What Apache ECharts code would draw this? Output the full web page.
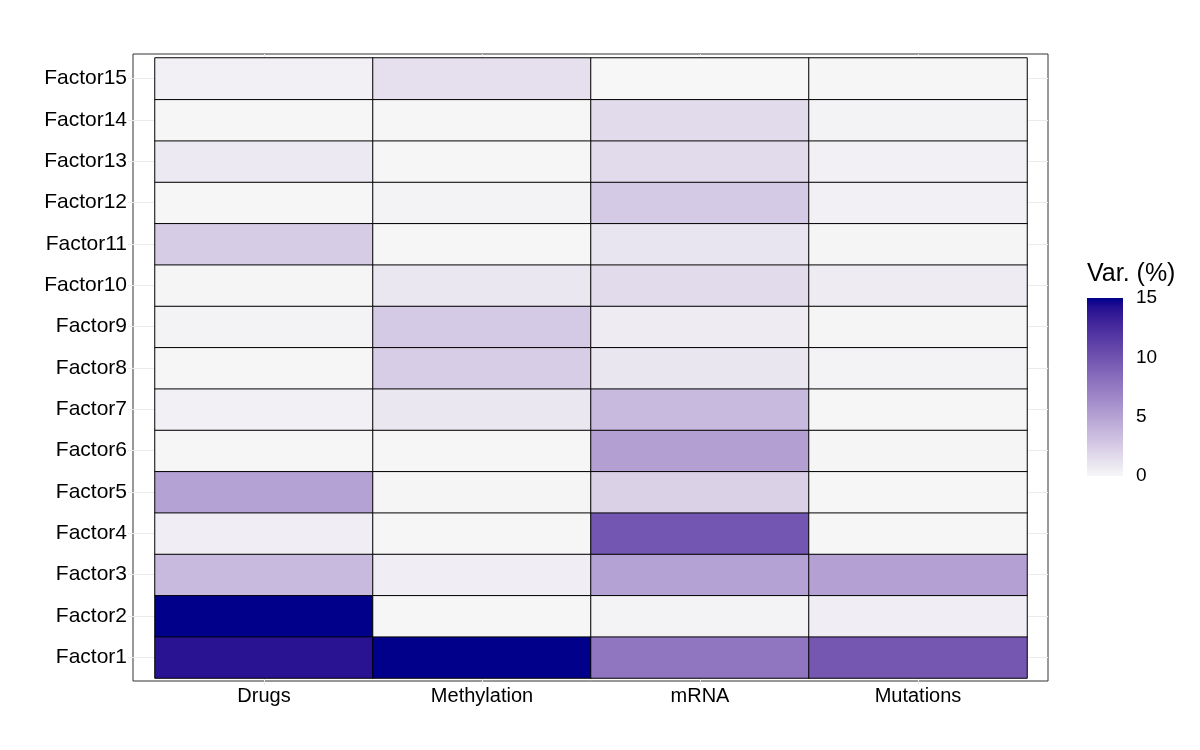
<!DOCTYPE html>
<html>
<head>
<meta charset="utf-8">
<style>
  html, body { margin: 0; padding: 0; background: #fff; }
  #chart { width: 1200px; height: 750px; }
</style>
<script src="https://cdn.jsdelivr.net/npm/echarts@6/dist/echarts.min.js"></script>
</head>
<body>
<div id="chart"></div>
<script>
// views on x, factors on y (Factor1 at the bottom)
const views = ['Drugs', 'Methylation', 'mRNA', 'Mutations'];
const factors = ['Factor1', 'Factor2', 'Factor3', 'Factor4', 'Factor5', 'Factor6', 'Factor7', 'Factor8',
  'Factor9', 'Factor10', 'Factor11', 'Factor12', 'Factor13', 'Factor14', 'Factor15'];

// variance explained (%) per factor, Factor1..Factor15
const drugs       = [14.0, 15.1, 3.6, 0.5, 5.0, 0.05, 0.4, 0.05, 0.3, 0.1, 2.5, 0.05, 0.8, 0.05, 0.4];
const methylation = [15.0, 0.05, 0.5, 0.05, 0.1, 0.05, 0.9, 2.4, 2.6, 0.9, 0.05, 0.3, 0.05, 0.05, 1.3];
const mrna        = [7.7, 0.3, 5.0, 9.8, 2.2, 5.2, 3.6, 1.0, 0.7, 1.6, 1.1, 2.6, 1.6, 1.6, 0.02];
const mutations   = [9.7, 0.5, 5.1, 0.05, 0.05, 0.1, 0.05, 0.3, 0.1, 0.7, 0.1, 0.4, 0.4, 0.3, 0.05];

const legendTicks = [0, 5, 10, 15];
const scaleMin = 0;
const scaleMax = 15;

// gray97 -> darkblue, interpolated in Lab like ggplot's gradientn
function hexToLab(hex) {
  const c = [1, 3, 5].map(i => parseInt(hex.substr(i, 2), 16) / 255)
    .map(v => v <= 0.04045 ? v / 12.92 : Math.pow((v + 0.055) / 1.055, 2.4));
  const x = (0.4124 * c[0] + 0.3576 * c[1] + 0.1805 * c[2]) / 0.95047;
  const y = (0.2126 * c[0] + 0.7152 * c[1] + 0.0722 * c[2]);
  const z = (0.0193 * c[0] + 0.1192 * c[1] + 0.9505 * c[2]) / 1.08883;
  const f = t => t > 0.008856 ? Math.cbrt(t) : 7.787 * t + 16 / 116;
  return [116 * f(y) - 16, 500 * (f(x) - f(y)), 200 * (f(y) - f(z))];
}
function labToHex(lab) {
  const fy = (lab[0] + 16) / 116, fx = fy + lab[1] / 500, fz = fy - lab[2] / 200;
  const inv = t => t * t * t > 0.008856 ? t * t * t : (t - 16 / 116) / 7.787;
  const x = inv(fx) * 0.95047, y = inv(fy), z = inv(fz) * 1.08883;
  const lin = [
    3.2406 * x - 1.5372 * y - 0.4986 * z,
    -0.9689 * x + 1.8758 * y + 0.0415 * z,
    0.0557 * x - 0.2040 * y + 1.0570 * z
  ];
  return '#' + lin.map(v => {
    v = Math.min(1, Math.max(0, v));
    v = v <= 0.0031308 ? 12.92 * v : 1.055 * Math.pow(v, 1 / 2.4) - 0.055;
    return Math.round(v * 255).toString(16).padStart(2, '0');
  }).join('');
}
const lo = hexToLab('#f7f7f7'), hi = hexToLab('#00008b');
const ramp = [];
for (let i = 0; i <= 20; i++) {
  const t = i / 20;
  ramp.push(labToHex(lo.map((v, k) => v + (hi[k] - v) * t)));
}

const cols = [drugs, methylation, mrna, mutations];
const heatData = [];
cols.forEach((vals, xi) => vals.forEach((v, yi) => heatData.push([xi, yi, v])));

const gridColor = '#ebebeb';
const textColor = '#000';
const fontFamily = 'Liberation Sans, Arial, sans-serif';

const option = {
  animation: false,
  textStyle: { fontFamily: fontFamily },
  title: {
    text: 'Var. (%)',
    left: 1082, top: 257,
    textStyle: { fontSize: 25, fontWeight: 'normal', color: textColor, fontFamily: fontFamily }
  },
  grid: [
    // tiles
    { left: 155, top: 58, right: 173, bottom: 72 },
    // panel border
    { left: 133, top: 54, right: 152, bottom: 69, show: true, borderColor: '#333', borderWidth: 1, backgroundColor: 'transparent' },
    // colour bar
    { left: 1087, top: 298, width: 36, height: 178 }
  ],
  xAxis: [
    {
      gridIndex: 0, type: 'category', data: views, position: 'bottom',
      axisLine: { show: false },
      axisTick: { show: true, alignWithLabel: true, length: 7, lineStyle: { color: gridColor } },
      axisLabel: { margin: 8, fontSize: 20, color: textColor },
      splitLine: { show: false }
    },
    {
      gridIndex: 0, type: 'category', data: views, position: 'top',
      axisLine: { show: false },
      axisTick: { show: true, alignWithLabel: true, length: 4, lineStyle: { color: gridColor } },
      axisLabel: { show: false }
    },
    { gridIndex: 1, type: 'value', show: false },
    { gridIndex: 2, type: 'category', data: [''], show: false }
  ],
  yAxis: [
    {
      gridIndex: 0, type: 'category', data: factors, position: 'left',
      axisLine: { show: false },
      axisTick: { show: true, alignWithLabel: true, length: 27, lineStyle: { color: gridColor } },
      axisLabel: { margin: 28, fontSize: 21, color: textColor },
      splitLine: { show: false }
    },
    {
      gridIndex: 0, type: 'category', data: factors, position: 'right',
      axisLine: { show: false },
      axisTick: { show: true, alignWithLabel: true, length: 21, lineStyle: { color: gridColor } },
      axisLabel: { show: false }
    },
    { gridIndex: 1, type: 'value', show: false },
    {
      gridIndex: 2, type: 'value', min: scaleMin, max: scaleMax, interval: 5, position: 'right',
      axisLine: { show: false },
      axisTick: { show: true, inside: true, length: 7, lineStyle: { color: '#fff', width: 1 } },
      axisLabel: { margin: 13, fontSize: 19, color: textColor, padding: [3, 0, 0, 0], formatter: v => legendTicks.includes(v) ? String(v) : '' },
      splitLine: { show: false }
    },
    {
      gridIndex: 2, type: 'value', min: scaleMin, max: scaleMax, interval: 5, position: 'left',
      axisLine: { show: false },
      axisTick: { show: true, inside: true, length: 7, lineStyle: { color: '#fff', width: 1 } },
      axisLabel: { show: false },
      splitLine: { show: false }
    }
  ],
  visualMap: {
    show: false, type: 'continuous', seriesIndex: 0,
    min: scaleMin, max: scaleMax,
    inRange: { color: ramp }
  },
  series: [
    {
      type: 'heatmap', xAxisIndex: 0, yAxisIndex: 0,
      data: heatData,
      itemStyle: { borderColor: '#000', borderWidth: 1 },
      emphasis: { disabled: true }
    },
    {
      type: 'bar', xAxisIndex: 3, yAxisIndex: 3, z: 1,
      data: [scaleMax], barWidth: '100%',
      itemStyle: {
        color: new echarts.graphic.LinearGradient(0, 1, 0, 0,
          ramp.map((c, i) => ({ offset: i / (ramp.length - 1), color: c })))
      },
      silent: true
    }
  ]
};

const chart = echarts.init(document.getElementById('chart'), null, { renderer: 'canvas' });
chart.setOption(option);
</script>
</body>
</html>
